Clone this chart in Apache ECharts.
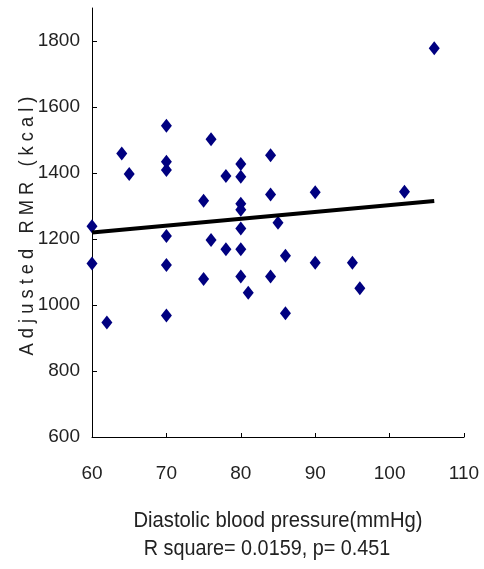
<!DOCTYPE html>
<html>
<head>
<meta charset="utf-8">
<script src="https://cdn.jsdelivr.net/npm/echarts@6/dist/echarts.min.js"></script>
<style>
  html, body { margin: 0; padding: 0; background: #fff; }
  #chart { width: 484px; height: 569px; }
</style>
</head>
<body>
<div id="chart"></div>
<script>
// Diastolic blood pressure (mmHg) for each subject
const dbp = [60, 60, 62, 64, 65, 70, 70, 70, 70, 70, 70, 75, 75, 76, 76, 78, 78,
             80, 80, 80, 80, 80, 80, 80, 81, 84, 84, 84, 85, 86, 86, 90, 90, 95, 96, 102, 106];
// Adjusted resting metabolic rate (kcal) for each subject
const rmr = [1239, 1126, 947, 1459, 1397, 1543, 1434, 1409, 1209, 1121, 968, 1316, 1079, 1502, 1197, 1391, 1169,
             1427, 1389, 1307, 1289, 1232, 1169, 1086, 1037, 1454, 1335, 1086, 1249, 1149, 975, 1342, 1128, 1128, 1051, 1343, 1778];
// Linear fit end points
const fitX = [60, 106];
const fitY = [1220, 1315];
// Axis tick values
const xTicks = [60, 70, 80, 90, 100, 110];
const yTicks = [600, 800, 1000, 1200, 1400, 1600, 1800];

const xTitle = 'Diastolic blood pressure(mmHg)';
const statText = 'R square= 0.0159, p= 0.451';
const yTitle = 'Adjusted RMR (kcal)';

const FONT = "'Liberation Sans', Arial, sans-serif";
const TEXT = '#222';
const spaced = s => s.split('').join(' ');

const chart = echarts.init(document.getElementById('chart'), null, { renderer: 'canvas' });
chart.setOption({
  animation: false,
  backgroundColor: '#fff',
  grid: { left: 92, right: 20, top: 8, bottom: 132, containLabel: false, outerBoundsMode: 'none' },
  xAxis: {
    type: 'value',
    min: xTicks[0], max: xTicks[xTicks.length - 1], interval: 10,
    splitLine: { show: false },
    axisLine: { lineStyle: { color: '#000', width: 1 } },
    axisTick: { inside: true, length: 4, lineStyle: { color: '#000' } },
    axisLabel: { color: TEXT, fontFamily: FONT, fontSize: 19, margin: 27, formatter: v => String(v) }
  },
  yAxis: {
    type: 'value',
    min: 600, max: 1900, interval: 200,
    splitLine: { show: false },
    axisLine: { show: true, lineStyle: { color: '#000', width: 1 } },
    axisTick: { show: true, inside: true, length: 5, customValues: yTicks, lineStyle: { color: '#000' } },
    axisLabel: { color: TEXT, fontFamily: FONT, fontSize: 19, margin: 12, customValues: yTicks, formatter: v => String(v) }
  },
  // Axis titles, set in a condensed width
  graphic: [{
    type: 'text',
    x: 278, y: 521, scaleX: 0.92,
    style: { text: xTitle, fill: TEXT, font: '22px ' + FONT, align: 'center', verticalAlign: 'middle' }
  }, {
    type: 'text',
    x: 267, y: 549, scaleX: 0.9,
    style: { text: statText, fill: TEXT, font: '22px ' + FONT, align: 'center', verticalAlign: 'middle' }
  }, {
    type: 'text',
    x: 27, y: 226, rotation: Math.PI / 2, scaleX: 0.87,
    style: { text: spaced(yTitle), fill: TEXT, font: '21px ' + FONT, align: 'center', verticalAlign: 'middle' }
  }],
  series: [{
    type: 'scatter',
    data: dbp.map((x, i) => [x, rmr[i]]),
    symbol: 'diamond',
    symbolSize: [11, 14],
    itemStyle: { color: '#000080', opacity: 1 },
    z: 2
  }, {
    type: 'line',
    data: fitX.map((x, i) => [x, fitY[i]]),
    symbol: 'none',
    lineStyle: { color: '#000', width: 4 },
    z: 3
  }]
});
</script>
</body>
</html>
